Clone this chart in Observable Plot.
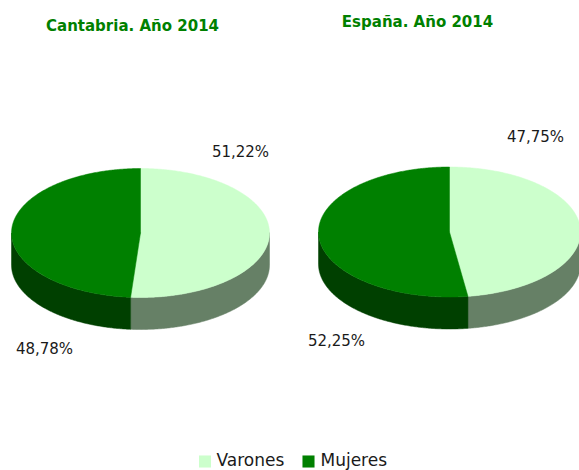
<!DOCTYPE html>
<html>
<head>
<meta charset="utf-8">
<script src="https://cdn.jsdelivr.net/npm/d3@7"></script>
<script src="https://cdn.jsdelivr.net/npm/@observablehq/plot@0.6"></script>
<style>
  html, body { margin: 0; padding: 0; background: #ffffff; }
  #chart svg { display: block; }
</style>
</head>
<body>
<div id="chart"></div>
<script>
// ---- Data ----
const regions = ["Cantabria. Año 2014", "España. Año 2014"];
const categories = ["Varones", "Mujeres"];
const varones = [51.22, 47.75];
const mujeres = [48.78, 52.25];
const labelText = [["51,22%", "48,78%"], ["47,75%", "52,25%"]];

// ---- Styles / layout ----
const topColors = ["#ccffcc", "#008000"];
const sideColors = ["#668066", "#004000"];
const W = 579, H = 470;
const pies = [
  {cx: 140, cy: 232.5, rx: 129, ry: 64.5, depth: 32},
  {cx: 449, cy: 231.5, rx: 131, ry: 65, depth: 32}
];
const titlePos = [{x: 132, y: 26}, {x: 417, y: 22}];
const labelPos = [
  [{x: 240, y: 152}, {x: 44, y: 349}],
  [{x: 535, y: 137}, {x: 336, y: 341}]
];
const legendPos = [{x: 204.5, tx: 216}, {x: 308, tx: 320}];
const legendY = 460;

const pieGen = d3.pie().sort(null).startAngle(0).endAngle(2 * Math.PI);

function ptAt(p, a, dy = 0) {
  return {x: p.cx + p.rx * Math.sin(a), y: p.cy - p.ry * Math.cos(a) + dy};
}
function arcPts(p, a0, a1, dy = 0) {
  const n = Math.max(2, Math.ceil(Math.abs(a1 - a0) / 0.01));
  const out = [];
  for (let i = 0; i <= n; i++) out.push(ptAt(p, a0 + (a1 - a0) * i / n, dy));
  return out;
}

const sideMarks = [];
const topMarks = [];
regions.forEach((r, i) => {
  const p = pies[i];
  const arcs = pieGen([varones[i], mujeres[i]]);
  arcs.forEach((a, j) => {
    // visible side face: the part of the slice within the front half (PI/2 .. 3PI/2)
    const s0 = Math.max(a.startAngle, Math.PI / 2);
    const s1 = Math.min(a.endAngle, 3 * Math.PI / 2);
    if (s1 > s0) {
      const topEdge = arcPts(p, s0, s1);
      const botEdge = arcPts(p, s0, s1, p.depth).reverse();
      sideMarks.push(Plot.line([...topEdge, ...botEdge, topEdge[0]],
        {x: "x", y: "y", fill: sideColors[j], stroke: sideColors[j], strokeWidth: 0.5, curve: "linear"}));
    }
    const face = [{x: p.cx, y: p.cy}, ...arcPts(p, a.startAngle, a.endAngle), {x: p.cx, y: p.cy}];
    topMarks.push(Plot.line(face,
      {x: "x", y: "y", fill: topColors[j], stroke: topColors[j], strokeWidth: 0.5, curve: "linear"}));
  });
});

const titles = regions.map((t, i) => ({text: t, ...titlePos[i]}));
const labels = regions.flatMap((r, i) => labelText[i].map((t, j) => ({text: t, ...labelPos[i][j]})));
const legend = categories.map((c, j) => ({name: c, color: topColors[j], ...legendPos[j]}));

const chart = Plot.plot({
  width: W,
  height: H,
  margin: 0,
  x: {domain: [0, W], range: [0, W], axis: null},
  y: {domain: [0, H], range: [0, H], axis: null},
  style: {background: "#ffffff"},
  marks: [
    ...sideMarks,
    ...topMarks,
    Plot.text(titles, {x: "x", y: "y", text: "text", fill: "#008000", fontWeight: "bold",
      fontSize: 15, fontFamily: "DejaVu Sans", textAnchor: "middle"}),
    Plot.text(labels, {x: "x", y: "y", text: "text", fill: "#1a1a1a",
      fontSize: 15, fontFamily: "DejaVu Sans", textAnchor: "middle"}),
    Plot.dot(legend, {x: "x", y: () => legendY + 1, symbol: "square", r: 6.8, fill: "color", stroke: null}),
    Plot.text(legend, {x: "tx", y: () => legendY, text: "name", fill: "#1a1a1a",
      fontSize: 17, fontFamily: "DejaVu Sans", textAnchor: "start"})
  ],
  color: {type: "identity"}
});
document.getElementById("chart").appendChild(chart);
</script>
</body>
</html>
